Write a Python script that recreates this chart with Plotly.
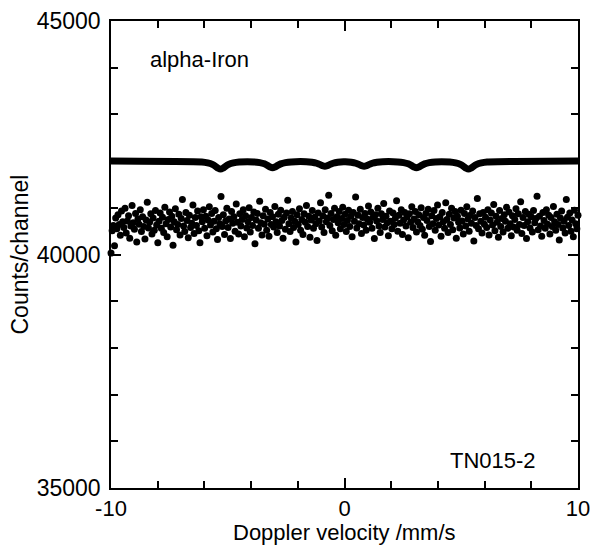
import numpy as np
import plotly.graph_objects as go

counts = [
    40030, 40510, 40620, 40190, 40780, 40550, 40850, 40640, 40410, 40930, 40700, 40580, 40990, 40460, 40720, 40830, 40350, 40610, 41050, 40680,
    40540, 40880, 40270, 40760, 40650, 40960, 40490, 40810, 40600, 40330, 40740, 41120, 40570, 40690, 40870, 40440, 40780, 40520, 40940, 40630,
    40250, 40710, 40890, 40560, 40800, 40470, 41010, 40660, 40380, 40750, 40910, 40590, 40820, 40200, 40700, 40980, 40530, 40640, 40860, 40420,
    40770, 41180, 40610, 40490, 40900, 40730, 40360, 40840, 40580, 40670, 41060, 40450, 40790, 40620, 40930, 40510, 40250, 40810, 40700, 40960,
    40560, 40820, 40400, 40740, 41020, 40630, 40880, 40480, 40710, 40940, 40550, 40320, 40790, 40660, 41240, 40600, 40850, 40430, 40720, 40990,
    40580, 40760, 40340, 40920, 40670, 40810, 40500, 41080, 40690, 40440, 40870, 40610, 40750, 40960, 40380, 40830, 40570, 40700, 41000, 40480,
    40790, 40620, 40910, 40230, 40740, 40880, 40560, 41140, 40680, 40420, 40830, 40650, 40970, 40520, 40760, 40390, 40900, 40640, 40810, 40590,
    41030, 40700, 40470, 40860, 40610, 40950, 40730, 40350, 40800, 40540, 40890, 41160, 40660, 40490, 40780, 40920, 40580, 40710, 40270, 40850,
    40640, 40980, 40520, 40750, 40430, 40870, 40690, 41050, 40600, 40820, 40370, 40740, 40940, 40560, 40800, 40660, 40300, 40890, 40720, 41110,
    40590, 40830, 40470, 40960, 40700, 40780, 41270, 40620, 40880, 40510, 40750, 40990, 40410, 40810, 40680, 40920, 40550, 40770, 41010, 40640,
    40860, 40490, 40730, 40950, 40600, 40820, 40380, 40900, 40710, 41230, 40570, 40840, 40660, 40970, 40450, 40790, 40630, 40880, 40520, 40760,
    41040, 40690, 40910, 40560, 40800, 40340, 40850, 40720, 40990, 40610, 40470, 40870, 40750, 41090, 40590, 40820, 40680, 40400, 40930, 40710,
    40550, 40890, 40640, 40780, 41150, 40500, 40840, 40670, 40960, 40430, 40740, 40900, 40610, 40810, 40360, 40870, 40690, 41020, 40580, 40760,
    40920, 40480, 40700, 40850, 40620, 41000, 40540, 40790, 40410, 40880, 40730, 40970, 40600, 40280, 40830, 40660, 40940, 40520, 40770, 41060,
    40630, 40810, 40390, 40900, 40700, 40560, 41110, 40750, 40470, 40860, 40640, 40990, 40530, 40780, 40920, 40350, 40820, 40690, 40570, 40950,
    40720, 40440, 40880, 40610, 41020, 40760, 40500, 40840, 40670, 40930, 40290, 40790, 40620, 41200, 40550, 40870, 40710, 40460, 40900, 40650,
    40800, 40580, 40960, 40420, 40740, 40890, 40630, 41070, 40510, 40820, 40690, 40370, 40940, 40600, 40770, 40480, 40850, 40710, 41010, 40560,
    40910, 40660, 40400, 40830, 40590, 40750, 40980, 40520, 40870, 40640, 41130, 40450, 40790, 40620, 40920, 40340, 40700, 40860, 40570, 40810,
    40480, 40940, 40680, 40770, 41250, 40530, 40820, 40610, 40390, 40900, 40730, 40560, 40960, 40650, 40840, 40440, 40790, 40600, 41030, 40700,
    40520, 40860, 40640, 40310, 40780, 40930, 40570, 40710, 40460, 41180, 40800, 40620, 40890, 40500, 40740, 40380, 40950, 40660, 40550, 40840,
]
velocity = np.linspace(-10, 10, len(counts))

# fitted sextet curve
fit_velocity = [
    -10,
    -6.11, -5.86, -5.66, -5.51, -5.41, -5.31, -5.21, -5.11, -4.96, -4.76, -4.51,
    -3.88, -3.63, -3.43, -3.28, -3.18, -3.08, -2.98, -2.88, -2.73, -2.53, -2.28,
    -1.64, -1.39, -1.19, -1.04, -0.94, -0.84, -0.74, -0.64, -0.49, -0.29, -0.04,
    0.04, 0.29, 0.49, 0.64, 0.74, 0.84, 0.94, 1.04, 1.19, 1.39, 1.64,
    2.28, 2.53, 2.73, 2.88, 2.98, 3.08, 3.18, 3.28, 3.43, 3.63, 3.88,
    4.51, 4.76, 4.96, 5.11, 5.21, 5.31, 5.41, 5.51, 5.66, 5.86, 6.11,
    10,
]
fit_counts = [
    42000,
    41980, 41961, 41929, 41883, 41847, 41830, 41847, 41883, 41929, 41961, 41980,
    41983, 41968, 41941, 41903, 41874, 41860, 41874, 41903, 41941, 41968, 41983,
    41987, 41975, 41954, 41924, 41901, 41890, 41901, 41924, 41954, 41975, 41987,
    41987, 41975, 41954, 41924, 41901, 41890, 41901, 41924, 41954, 41975, 41987,
    41983, 41968, 41941, 41903, 41874, 41860, 41874, 41903, 41941, 41968, 41983,
    41980, 41961, 41929, 41883, 41847, 41830, 41847, 41883, 41929, 41961, 41980,
    42000,
]

x_ticks = [-10, 0, 10]
x_ticklabels = ["-10", "0", "10"]
y_ticks = [35000, 40000, 45000]
y_ticklabels = ["35000", "40000", "45000"]

font = "Liberation Sans, Arial, sans-serif"

fig = go.Figure()
fig.add_trace(go.Scatter(x=fit_velocity, y=fit_counts, mode="lines",
                         line=dict(color="black", width=7, shape="spline", smoothing=0.6),
                         hoverinfo="skip"))
fig.add_trace(go.Scatter(x=velocity, y=counts, mode="markers",
                         marker=dict(color="black", size=7), cliponaxis=False))

fig.update_layout(
    width=592, height=546,
    margin=dict(l=111, r=14, t=21, b=58),
    plot_bgcolor="white", paper_bgcolor="white",
    showlegend=False,
    font=dict(family=font, size=22, color="black"),
    xaxis=dict(
        range=[-10, 10], tickmode="array", tickvals=x_ticks, ticktext=x_ticklabels,
        ticks="inside", ticklen=10, tickwidth=1.5, tickcolor="black",
        tickfont=dict(size=22),
        minor=dict(ticks="inside", dtick=2, tick0=-10, ticklen=7, tickwidth=1.5, tickcolor="black"),
        showline=True, linecolor="black", linewidth=1.5, mirror="ticks",
        showgrid=False, zeroline=False, automargin=False,
    ),
    yaxis=dict(
        range=[35000, 45000], tickmode="array", tickvals=y_ticks, ticktext=y_ticklabels,
        ticks="inside", ticklen=10, tickwidth=1.5, tickcolor="black",
        tickfont=dict(size=23), ticklabelstandoff=4,
        minor=dict(ticks="inside", dtick=1000, tick0=35000, ticklen=7, tickwidth=1.5, tickcolor="black"),
        showline=True, linecolor="black", linewidth=1.5, mirror="ticks",
        showgrid=False, zeroline=False, automargin=False,
    ),
    annotations=[
        dict(text="Doppler velocity /mm/s", x=0.5, y=-0.0955, xref="paper", yref="paper",
             xanchor="center", yanchor="middle", showarrow=False, font=dict(size=22)),
        dict(text="Counts/channel", x=-0.197, y=0.5, xref="paper", yref="paper",
             xanchor="center", yanchor="middle", textangle=-90, showarrow=False,
             font=dict(size=23)),
        dict(text="alpha-Iron", x=0.079, y=0.9165, xref="paper", yref="paper",
             xanchor="left", yanchor="middle", showarrow=False, font=dict(size=22)),
        dict(text="TN015-2", x=0.914, y=0.058, xref="paper", yref="paper",
             xanchor="right", yanchor="middle", showarrow=False, font=dict(size=22)),
    ],
)

# page body has a default 8px margin; drop it so the figure sits at the window corner
fig.write_html("out.html", config={"displayModeBar": False},
               post_script="document.body.style.margin='0';")
